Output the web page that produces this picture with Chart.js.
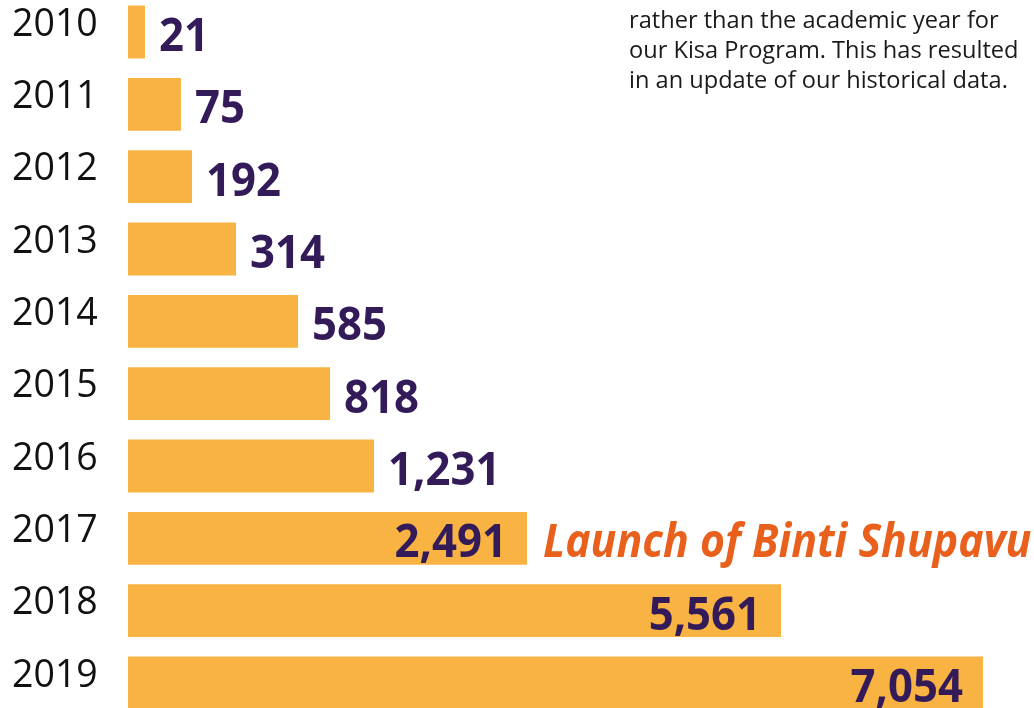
<!DOCTYPE html>
<html>
<head>
<meta charset="utf-8">
<script src="https://cdn.jsdelivr.net/npm/chart.js@4.4.1/dist/chart.umd.min.js"></script>
<style>
html, body { margin: 0; padding: 0; background: #fff; }
</style>
</head>
<body>
<canvas id="myChart" width="1034" height="708"></canvas>
<script>
var years = ['2010', '2011', '2012', '2013', '2014', '2015', '2016', '2017', '2018', '2019'];
var students = [21, 75, 192, 314, 585, 818, 1231, 2491, 5561, 7054];
// the original graphic is not drawn to scale, so these are the bar lengths as drawn
// (in the same units as the 2019 bar)
var barLengths = [140, 437, 528, 891, 1403, 1667, 2030, 3292, 5388, 7054];
var axisMax = 7475;
var calloutYear = '2017';
var calloutText = 'Launch of Binti Shupavu';
var noteLines = [
    'rather than the academic year for',
    'our Kisa Program. This has resulted',
    'in an update of our historical data.'
];

var barColor = '#F8B343';
var purple = '#331B59';
var orange = '#E8601C';

var labelPlugin = {
    id: 'labels',
    afterDatasetsDraw: function(chart) {
        var ctx = chart.ctx;
        var meta = chart.getDatasetMeta(0);
        ctx.save();
        ctx.textBaseline = 'middle';
        for (var i = 0; i < meta.data.length; i++) {
            var bar = meta.data[i];
            var txt = students[i].toLocaleString('en-US');
            var inside = students[i] > 2000;
            ctx.save();
            ctx.font = 'bold 46px "Open Sans"';
            ctx.fillStyle = purple;
            ctx.textAlign = inside ? 'right' : 'left';
            ctx.translate(inside ? bar.x - 20 : bar.x + 14, bar.y + 6);
            ctx.scale(0.95, 1);
            ctx.fillText(txt, 0, 0);
            ctx.restore();

            if (years[i] === calloutYear) {
                ctx.save();
                ctx.font = 'italic bold 46px "Open Sans"';
                ctx.fillStyle = orange;
                ctx.textAlign = 'left';
                ctx.translate(bar.x + 16, bar.y + 6);
                ctx.scale(0.93, 1);
                ctx.fillText(calloutText, 0, 0);
                ctx.restore();
            }
        }

        // note in the top right corner
        ctx.font = '23.6px "Open Sans"';
        ctx.fillStyle = '#1a1a1a';
        ctx.textAlign = 'left';
        ctx.textBaseline = 'alphabetic';
        for (var j = 0; j < noteLines.length; j++) {
            ctx.fillText(noteLines[j], 629, 28 + j * 30);
        }
        ctx.restore();
    }
};

window.onload = function() {
    var ctx = document.getElementById('myChart');
    var myChart = new Chart(ctx, {
        type: 'bar',
        data: {
            labels: years,
            datasets: [{
                label: 'Students',
                data: barLengths,
                backgroundColor: barColor,
                borderWidth: 0,
                barPercentage: 0.73,
                categoryPercentage: 1,
                clip: false
            }]
        },
        options: {
            indexAxis: 'y',
            responsive: false,
            animation: false,
            layout: { padding: { left: 12, top: 32, bottom: 25, right: 0 } },
            plugins: {
                legend: { display: false },
                tooltip: { enabled: false }
            },
            scales: {
                x: { display: false, min: 0, max: axisMax },
                y: {
                    offset: false,
                    grid: { display: false },
                    border: { display: false },
                    ticks: {
                        color: '#111',
                        font: { family: 'Open Sans', size: 37.5 },
                        crossAlign: 'far',
                        labelOffset: -7,
                        padding: 0
                    },
                    afterFit: function(scale) { scale.width = 116; }
                }
            }
        },
        plugins: [labelPlugin]
    });
};
</script>
</body>
</html>
